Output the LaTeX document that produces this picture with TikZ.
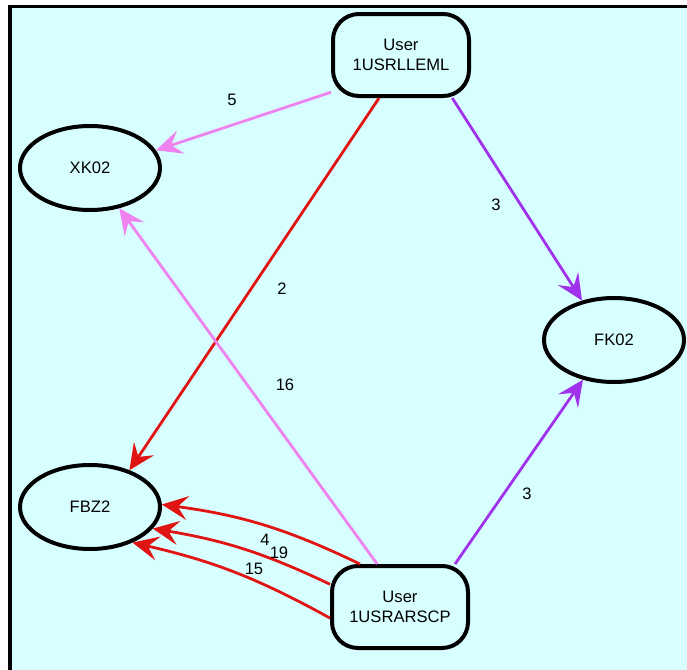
\documentclass[tikz,border=0pt]{standalone}
\usepackage{fontspec}
\setmainfont{Liberation Sans}
\usetikzlibrary{arrows.meta, shapes}

\definecolor{bgcyan}{RGB}{216,255,255}
\definecolor{linkpink}{RGB}{238,130,238}
\definecolor{linkpurple}{RGB}{160,50,235}
\definecolor{linkred}{RGB}{225,20,20}

\begin{document}
\begin{tikzpicture}[x=0.5pt, y=-0.5pt,
  user/.style={draw, line width=2pt, rounded corners=13pt, minimum width=68pt,
    minimum height=41pt, inner sep=0pt, align=center,
    font=\fontsize{8.3}{10}\selectfont},
  item/.style={draw, ellipse, line width=2pt, minimum width=70pt,
    minimum height=42pt, inner sep=0pt, font=\fontsize{8.3}{10}\selectfont},
  link/.style={line width=1.4pt, -{Stealth[length=13pt, width=12pt, inset=5pt]}},
  num/.style={inner sep=0pt, font=\fontsize{8.3}{10}\selectfont}]

% Frame
\useasboundingbox (0,0) rectangle (687,670);
\fill[bgcyan] (8,5) rectangle (687,670);
\fill (8,5) rectangle (687,8);
\fill (8,5) rectangle (12,670);

% Users and items
\node[user] (u1) at (401,55) {User\\1USRLLEML};
\node[user] (u2) at (400,607) {User\\1USRARSCP};
\node[item] (xk) at (90,168) {XK02};
\node[item] (fbz) at (90,507) {FBZ2};
\node[item] (fk) at (614,340) {FK02};

% Links of the first user
\draw[link, linkpink] (u1.208) -- (xk.15);
\draw[link, linkred] (u1.243) -- (fbz.43);
\draw[link, linkpurple] (u1.320) -- (fk.129);

% Links of the second user
\draw[link, linkpink] (u2.118) -- (xk.306);
\draw[link, linkpurple] (u2.38) -- (fk.232);
\draw[link, linkred] (u2.133) to[bend right=9] (fbz.2);
\draw[link, linkred] (u2.162) to[bend right=8] (fbz.341);
\draw[link, linkred] (u2.189) to[bend right=8] (fbz.320);

% Counts
\node[num] (n5) at (232,100) {5};
\node[num] (n2) at (282,289) {2};
\node[num] (n3a) at (496,205) {3};
\node[num] (n16) at (285,385) {16};
\node[num] (n3b) at (527,494) {3};
\node[num] (n4) at (265,540) {4};
\node[num] (n19) at (279,553) {19};
\node[num] (n15) at (254,569) {15};
\end{tikzpicture}
\end{document}
